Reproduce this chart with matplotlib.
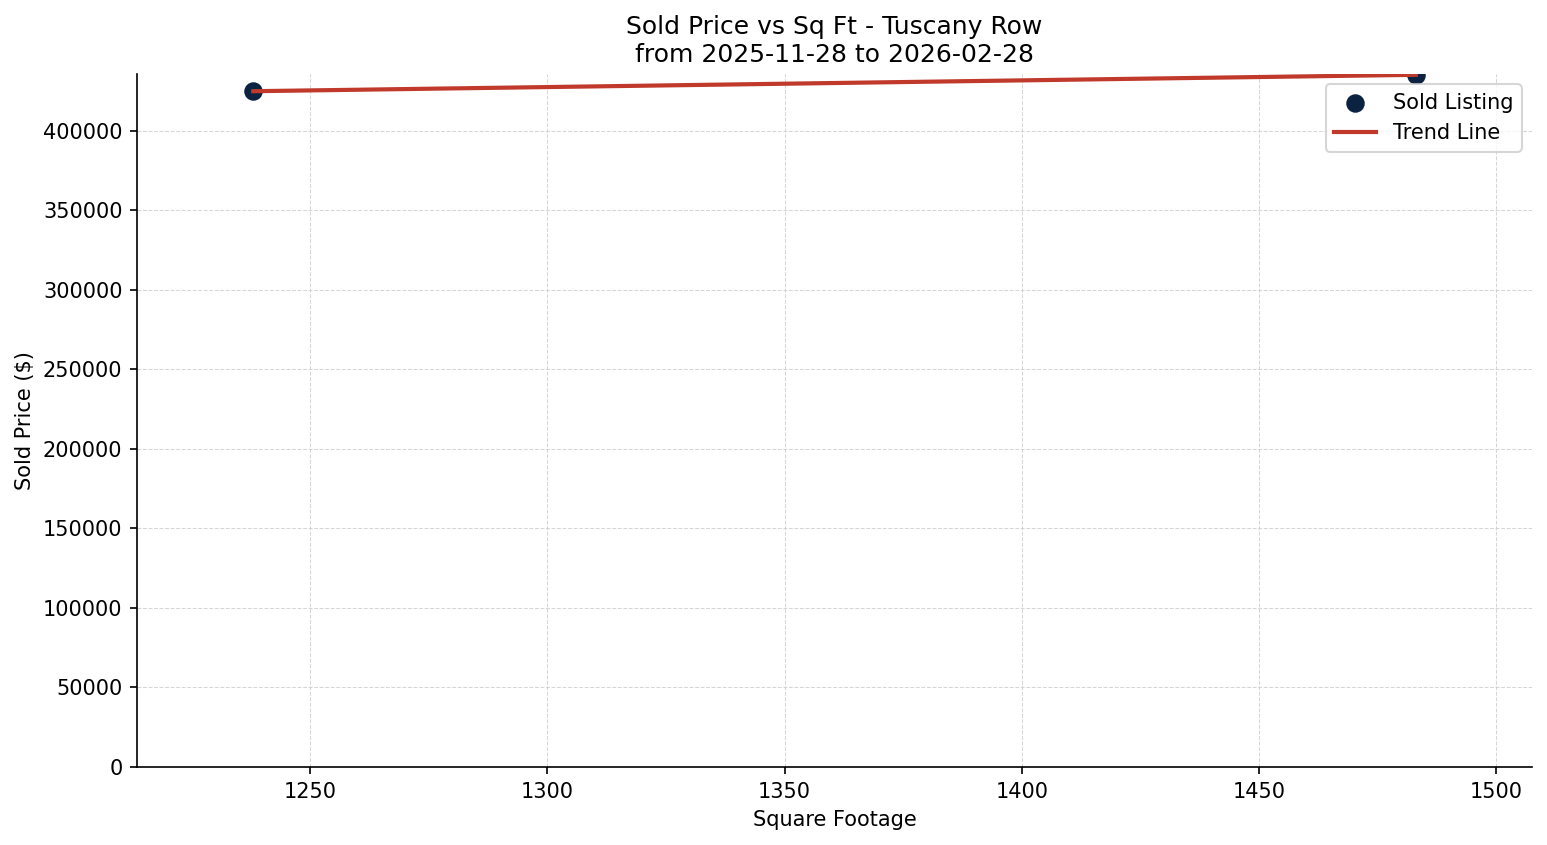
import numpy as np
import matplotlib
matplotlib.use("Agg")
import matplotlib.pyplot as plt

sqft = [1238, 1483]
price = [424700, 435000]
title = "Sold Price vs Sq Ft - Tuscany Row\nfrom 2025-11-28 to 2026-02-28"

DPI = 150
fig = plt.figure(figsize=(1547 / DPI, 845 / DPI), dpi=DPI)
ax = fig.add_axes([137 / 1547, 1 - 767 / 845, (1532 - 137) / 1547, (767 - 74) / 845])

ax.scatter(sqft, price, s=62, color="#0b2240", label="Sold Listing", zorder=3)
coef = np.polyfit(sqft, price, 1)
xs = np.array(sorted(sqft))
ax.plot(xs, np.polyval(coef, xs), color="#c0392b", linewidth=2, label="Trend Line", zorder=4)

ax.margins(x=0.1)
ax.set_ylim(bottom=0)
ax.set_title(title)
ax.set_xlabel("Square Footage")
ax.set_ylabel("Sold Price ($)")
ax.grid(True, linestyle="--", linewidth=0.5, color="#cccccc", alpha=0.8)
ax.set_axisbelow(True)
ax.spines["top"].set_visible(False)
ax.spines["right"].set_visible(False)
ax.ticklabel_format(axis="y", style="plain", useOffset=False)
ax.legend(loc="upper right")

fig.savefig("out.png", dpi=DPI)
